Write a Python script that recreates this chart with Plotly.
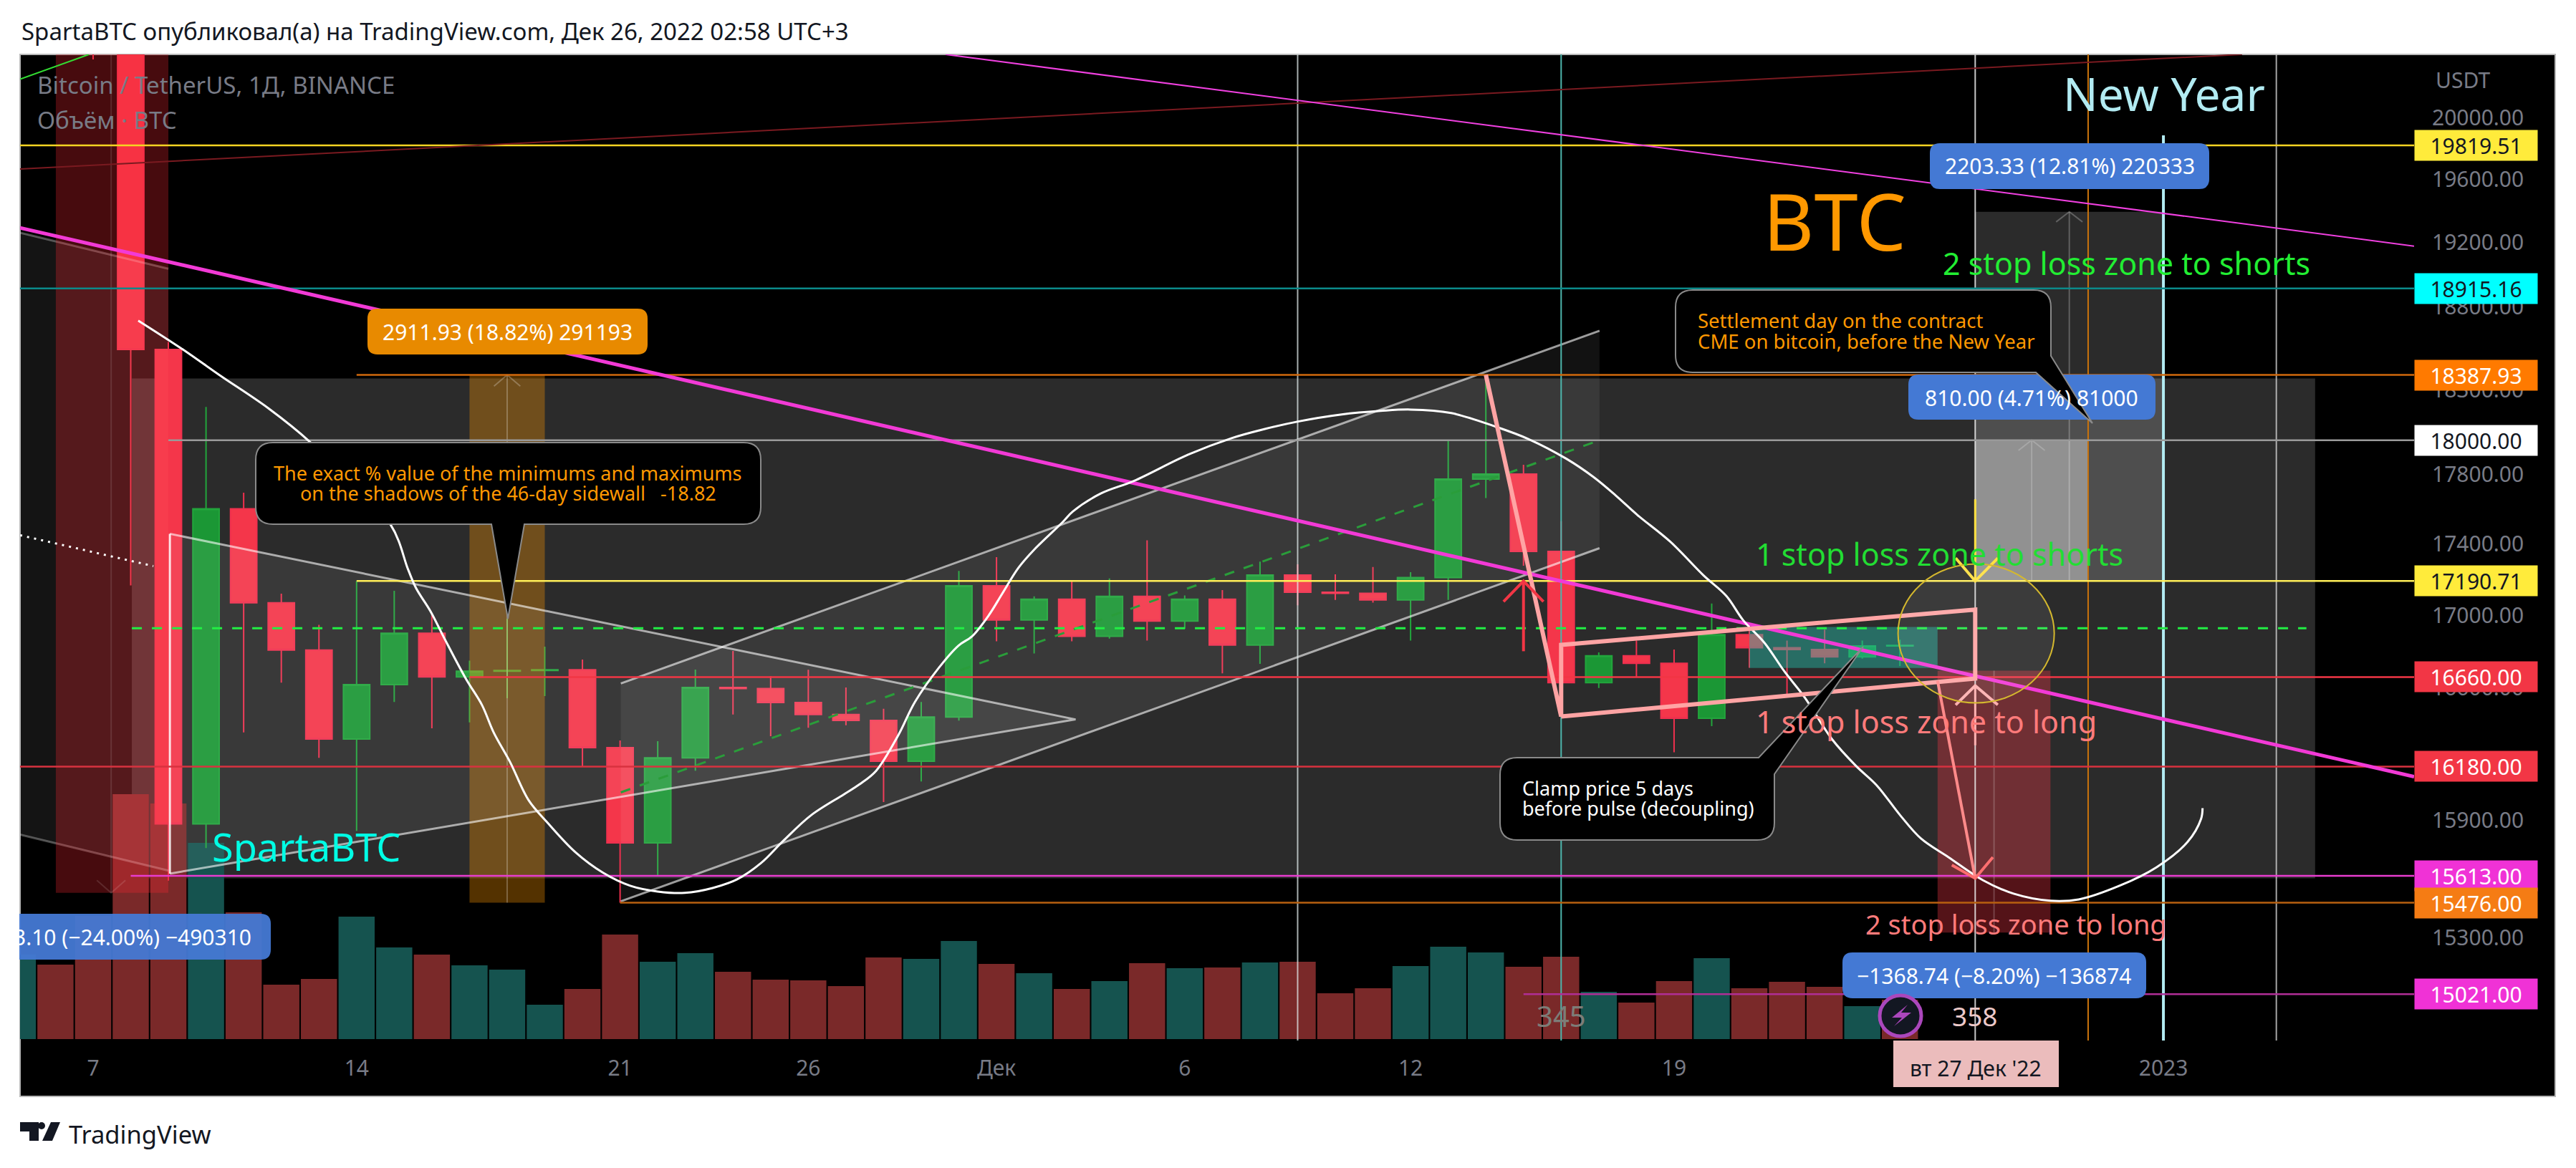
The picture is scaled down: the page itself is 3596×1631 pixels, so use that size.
# BTC/USDT 1D TradingView idea, redrawn with plotly
import math

import pandas as pd
import plotly.graph_objects as go

# daily candles, 7 Nov - 25 Dec 2022
opens = [20905, 20590, 18541, 15880, 17601, 17069, 16807, 16326, 16619, 16900, 16661, 16692, 16696, 16700,
         16280, 15782, 16226, 16603, 16597, 16522, 16457, 16426, 16208, 16444,
         17164, 16973, 17089, 16883, 17105, 16967, 17089, 16835, 17224, 17128, 17122, 17085, 17210, 17773,
         17802, 17358, 16630, 16776, 16735, 16437, 16892, 16820, 16810, 16770, 16830]
highs = [21053, 20700, 18587, 18197, 17694, 17120, 16947, 17190, 17136, 17006, 16750, 16979, 16826, 16755,
         16318, 16315, 16701, 16803, 16665, 16700, 16603, 16488, 16525, 17248,
         17325, 17105, 17190, 17205, 17421, 17110, 17140, 17300, 17285, 17228, 17270, 17240, 17998, 18388,
         17856, 17530, 16795, 16860, 16810, 17065, 16950, 16860, 16920, 16860, 16865]
lows = [20384, 17166, 15588, 15755, 16361, 16630, 16226, 15844, 16525, 16383, 16415, 16545, 16557, 16180,
        15476, 15614, 16158, 16457, 16341, 16386, 16400, 15993, 16101, 16425,
        16856, 16789, 16856, 16870, 16860, 16925, 16680, 16732, 17055, 17085, 17070, 16860, 17085, 17663,
        17277, 16580, 16600, 16660, 16256, 16395, 16710, 16560, 16735, 16760, 16720]
closes = [20590, 18541, 15880, 17601, 17069, 16807, 16326, 16619, 16900, 16661, 16692, 16696, 16700, 16280,
          15782, 16226, 16603, 16597, 16522, 16457, 16426, 16208, 16444, 17164,
          16973, 17089, 16883, 17105, 16967, 17089, 16835, 17224, 17128, 17122, 17085, 17210, 17773, 17802,
          17358, 16630, 16776, 16735, 16437, 16892, 16820, 16810, 16770, 16830, 16833]

# volume bars, 5 Nov - 25 Dec, in thousands of BTC (u = teal, d = red)
volumes = [118, 104, 172, 342, 329, 274, 177, 76, 84, 171, 128, 118, 103, 97, 48, 70, 146, 108, 120, 94, 83, 82, 74,
           114, 112, 137, 105, 92, 70, 81, 106, 99, 100, 107, 108, 64, 71, 102, 129, 121, 101, 115, 66, 51, 81, 113,
           71, 80, 73, 46, 55]
vol_sides = "uddddudddu" + "uduuudduud" + "dddduu" + "dududududdduuudduddudddud"

# axis ticks (the ones hidden behind price tags are left out)
price_ticks = [20000, 19600, 19200, 18800, 18300, 17800, 17400, 17000, 16600, 15900, 15300]
date_ticks = ["2022-11-07", "2022-11-14", "2022-11-21", "2022-11-26", "2022-12-01", "2022-12-06", "2022-12-12",
              "2022-12-19", "2023-01-01"]
date_labels = ["7", "14", "21", "26", "Дек", "6", "12", "19", "2023"]

# horizontal levels: price, first day (days after 7 Nov)
level_prices = [19819.51, 18915.16, 18387.93, 18000.00, 17190.71, 16660.00, 16180.00, 15613.00, 15476.00, 15021.00]
level_starts = [-1.94, -1.94, 7, 2, 7, 10, -1.94, 1, 14, 38]
level_colors = ["#f5d422", "#0b8a8a", "#d0680c", "#9a9a9a", "#ffee58", "#f23645", "#d8323f", "#e83ccf", "#b8600f",
                "#b02e96"]
tag_colors = ["#ffeb3b", "#00ffff", "#ff7a00", "#ffffff", "#ffeb3b", "#f23645", "#f23645", "#f032d6", "#f57c14",
              "#f032d6"]
tag_text_colors = ["#131722", "#131722", "#ffffff", "#131722", "#131722", "#ffffff", "#ffffff", "#ffffff", "#ffffff",
                   "#ffffff"]

# white hand drawn curve
curve_days = [1.20, 2.40, 3.35, 4.66, 5.75, 7.90, 8.37, 8.58, 8.96, 9.32, 9.90, 10.33, 10.64, 11.08, 11.57, 12.08,
              12.81, 13.55, 14.27, 15.0, 15.72, 16.46, 17.11, 17.75, 18.34, 19.07, 19.94, 20.36, 20.80, 21.39, 21.83,
              22.47, 22.99, 23.35, 23.79, 24.15, 24.59, 25.02, 25.75, 26.03, 26.77, 27.65, 29.10, 30.26, 31.0, 32.01,
              33.17, 34.20, 35.0, 36.08, 37.26, 38.12, 39.14, 39.87, 40.46, 41.03, 41.90, 42.78, 43.39, 43.84, 44.40,
              44.93, 45.48, 46.20, 46.83, 47.38, 48.01, 48.56, 49.29, 50.20, 51.02, 52.0, 52.75, 53.83, 54.82, 55.64,
              56.0, 56.04]
curve_prices = [18717, 18539, 18388, 18188, 17992, 17511, 17255, 17151, 17023, 16877, 16652, 16509, 16362, 16203,
                16003, 15884, 15734, 15628, 15562, 15533, 15526, 15551, 15595, 15679, 15793, 15924, 16033, 16086,
                16157, 16346, 16524, 16711, 16832, 16883, 16998, 17119, 17267, 17372, 17523, 17586, 17689, 17762,
                17916, 18013, 18059, 18110, 18152, 18173, 18181, 18160, 18080, 18008, 17891, 17783, 17676, 17565,
                17413, 17223, 17107, 16971, 16848, 16691, 16547, 16324, 16184, 16082, 15924, 15804, 15708, 15591,
                15522, 15486, 15493, 15562, 15657, 15786, 15906, 15962]

# page layout in pixels
PLOT_L, PLOT_R, PLOT_T, PLOT_B = 28, 3370, 76, 1453
FRAME_R, FRAME_B = 3567, 1531
START = pd.Timestamp("2022-11-07")
X_LEFT, X_RIGHT = -1.94, 61.66
Y_LOW, Y_HIGH = 14795, 20417


def dates(days):
    return [(START + pd.Timedelta(days=d)).strftime("%Y-%m-%d %H:%M") for d in days]


def px(x):
    return (x - PLOT_L) / (PLOT_R - PLOT_L)


def py(y):
    return (PLOT_B - y) / (PLOT_B - PLOT_T)


fig = go.Figure()

# volume goes on the lower y axis so the price drawings stay on top of it
fig.add_trace(go.Bar(
    x=dates(range(-2, 49)), y=volumes, yaxis="y", xaxis="x",
    marker=dict(color=["#15534f" if s == "u" else "#7a2929" for s in vol_sides], line_width=0),
    hoverinfo="skip", showlegend=False))

fig.add_trace(go.Candlestick(
    x=dates(range(0, 49)), open=opens, high=highs, low=lows, close=closes, yaxis="y2", xaxis="x",
    increasing=dict(line=dict(color="#22a53c", width=2), fillcolor="#1b9735"),
    decreasing=dict(line=dict(color="#f0304e", width=2), fillcolor="#f4364a"),
    hoverinfo="skip", showlegend=False))


def draw(days, prices, color="rgba(0,0,0,0)", width=2, dash=None, fill=None, shape="linear"):
    fig.add_trace(go.Scatter(
        x=dates(days), y=prices, mode="lines", yaxis="y2", xaxis="x",
        line=dict(color=color, width=width, dash=dash, shape=shape),
        fill="toself" if fill else None, fillcolor=fill,
        hoverinfo="skip", showlegend=False))


def zone(d0, d1, p0, p1, fill):
    draw([d0, d1, d1, d0, d0], [p0, p0, p1, p1, p0], width=0, fill=fill)


GRAY_LINE = "rgba(255,255,255,0.6)"
ZONE = "rgba(255,255,255,0.17)"

# zones (the big gray range is a shape below the candles, further down)
draw([-1.94, 2, 2, -1.94, -1.94], [19262, 19037, 15639, 15824, 19262], width=0, fill="rgba(255,255,255,0.08)")
draw([-1.94, 2], [19262, 19037], "rgba(255,255,255,0.3)", 3)
draw([-1.94, 2], [15824, 15639], "rgba(255,255,255,0.3)", 3)
zone(-0.99, 2, 15526, 21500, "rgba(255,40,50,0.28)")
draw([0.48, 0.48], [15526, 21500], "rgba(255,255,255,0.12)", 2)
draw([0.1, 0.48, 0.86], [15590, 15526, 15590], "rgba(255,255,255,0.12)", 2)
zone(10, 12, 15476, 18387.93, "rgba(255,152,0,0.33)")
draw([11, 11], [15476, 18387.93], "rgba(255,255,255,0.25)", 2)
draw([10.65, 11, 11.35], [18320, 18387.93, 18320], "rgba(255,255,255,0.25)", 2)
zone(50, 55, 17190.71, 19394.04, ZONE)
draw([52.5, 52.5], [17190.71, 19394.04], "rgba(255,255,255,0.25)", 2)
draw([52.15, 52.5, 52.85], [19330, 19394.04, 19330], "rgba(255,255,255,0.25)", 2)
zone(50, 53, 17190.71, 18000.71, "rgba(255,255,255,0.38)")
draw([51.5, 51.5], [17190.71, 18000.71], "rgba(255,255,255,0.2)", 2)
draw([51.15, 51.5, 51.85], [17940, 18000.71, 17940], "rgba(255,255,255,0.2)", 2)
zone(49, 52, 15326, 16695, "rgba(242,54,69,0.35)")
draw([50.5, 50.5], [15326, 16695], "rgba(255,255,255,0.2)", 2)
zone(44, 49, 16709, 16935, "rgba(38,190,170,0.45)")

# triangle and channel
draw([2.04, 26.1, 2.04], [17458, 16431, 15624], GRAY_LINE, 3, fill="rgba(255,255,255,0.07)")
draw([2.04, 2.04], [15624, 17458], "rgba(255,255,255,0.85)", 3)
draw([14.02, 40.02, 40.02, 14.02, 14.02], [16625, 18655, 17376, 15483, 16625], width=0, fill="rgba(255,255,255,0.07)")
draw([14.02, 40.02], [16625, 18655], GRAY_LINE, 3)
draw([14.02, 40.02], [15483, 17376], GRAY_LINE, 3)
draw([14.02, 40.02], [16044, 18000], "#2a9d3a", 3, dash="14px,14px")

# vertical lines
draw([32, 32], [14700, 21000], "rgba(225,235,235,0.75)", 2)
draw([39, 39], [14700, 21000], "#4db6ac", 2)
draw([50, 50], [14700, 21000], "rgba(235,235,235,0.85)", 2)
draw([53, 53], [14700, 21000], "#c9730c", 2)
draw([55, 55], [14700, 19884], "#b2ebf2", 4)
draw([58, 58], [14700, 21000], "rgba(220,220,220,0.75)", 2)

# horizontal levels
for price, first, color in zip(level_prices, level_starts, level_colors):
    draw([first, X_RIGHT], [price, price], color, 2.5)
draw([1.03, 58.8], [16928, 16928], "#22ee44", 3, dash="14px,14px")

# slanted lines
draw([-1.94, 57.09], [19667, 20417], "#7a1a20", 2)
draw([-1.94, -0.11], [20253, 20417], "#33dd33", 2)
draw([-1.94, 1.6], [17450, 17275], "#ffffff", 3, dash="3px,7px")
draw([22.65, 61.66], [20417, 19178], "#f040e0", 2)
draw([-1.94, 61.66], [19293, 16127], "#f23ad6", 5)

# white curve
draw(curve_days, curve_prices, "#ffffff", 3, shape="spline")

# pink drawing and arrows
draw([37, 39, 39, 50, 50, 39], [18388, 16447, 16836, 17031, 16652, 16447], "#ffa4a4", 6)
draw([49, 50], [16640, 15600], "#ff8a8a", 4)
draw([49.38, 50, 50.47], [15668, 15600, 15708], "#ff6f6f", 4)
draw([38, 38], [16801, 17191], "#f23645", 4)
draw([37.47, 38, 38.53], [17075, 17191, 17075], "#f23645", 4)
draw([50, 50], [16293, 16610], "#ffb0b0", 3)
draw([49.48, 50, 50.6], [16509, 16613, 16509], "#ffb0b0", 4)
draw([50, 50], [17656, 17191], "#ffe040", 3)
draw([49.48, 50, 50.6], [17320, 17191, 17320], "#ffe040", 4)

shapes = []
notes = []


def rect_px(x0, y0, x1, y1, fill, layer="below"):
    shapes.append(dict(type="rect", xref="paper", yref="paper", x0=px(x0), x1=px(x1), y0=py(y0), y1=py(y1),
                       fillcolor=fill, line_width=0, layer=layer))


def path_str(points):
    return " ".join(("M" if i == 0 else "L") + f"{px(a):.5f},{py(b):.5f}" for i, (a, b) in enumerate(points)) + " Z"


def callout(x0, y0, x1, y1, r, fill="#000000", line="#8a8a8a", tr=None, br=None, bottom=None):
    # rounded box, tail points replace a corner or sit on the bottom edge
    s = f"M{px(x0 + r):.5f},{py(y0):.5f} "
    if tr:
        s += " ".join(f"L{px(a):.5f},{py(b):.5f}" for a, b in tr) + " "
    else:
        s += f"L{px(x1 - r):.5f},{py(y0):.5f} Q{px(x1):.5f},{py(y0):.5f} {px(x1):.5f},{py(y0 + r):.5f} "
    if br:
        s += " ".join(f"L{px(a):.5f},{py(b):.5f}" for a, b in br) + " "
    else:
        s += f"L{px(x1):.5f},{py(y1 - r):.5f} Q{px(x1):.5f},{py(y1):.5f} {px(x1 - r):.5f},{py(y1):.5f} "
    if bottom:
        s += " ".join(f"L{px(a):.5f},{py(b):.5f}" for a, b in bottom) + " "
    s += (f"L{px(x0 + r):.5f},{py(y1):.5f} Q{px(x0):.5f},{py(y1):.5f} {px(x0):.5f},{py(y1 - r):.5f} "
          f"L{px(x0):.5f},{py(y0 + r):.5f} Q{px(x0):.5f},{py(y0):.5f} {px(x0 + r):.5f},{py(y0):.5f} Z")
    shapes.append(dict(type="path", xref="paper", yref="paper", path=s, fillcolor=fill,
                       line=dict(color=line, width=2 if line != fill else 0), layer="above"))


def label(text, x, y, size, color, anchor="center"):
    notes.append(dict(text=text, xref="paper", yref="paper", x=px(x), y=py(y), xanchor=anchor, yanchor="middle",
                      showarrow=False, font=dict(size=size, color=color), align=anchor))


# black frame around the axes
rect_px(PLOT_R, PLOT_T, FRAME_R, FRAME_B, "#000000")
rect_px(PLOT_L, PLOT_B, FRAME_R, FRAME_B, "#000000")
shapes.append(dict(type="rect", xref="paper", yref="paper", x0=px(PLOT_L), x1=px(FRAME_R), y0=py(PLOT_T), y1=py(FRAME_B),
                   line=dict(color="#b8b8b8", width=2), layer="below"))

# big gray range, under the candles
range_x = dates([1.03, 59.03])
shapes.append(dict(type="rect", xref="x", yref="y2", x0=range_x[0], x1=range_x[1], y0=15600, y1=18367,
                   fillcolor=ZONE, line_width=0, layer="below"))

# yellow circle
circle_x = dates([47.95, 52.1])
shapes.append(dict(type="circle", xref="x", yref="y2", x0=circle_x[0], x1=circle_x[1], y0=16520, y1=17287,
                   fillcolor="rgba(255,255,255,0.08)", line=dict(color="#d4b82e", width=2), layer="above"))

# measure labels
callout(513, 431, 904, 495, 14, fill="#e88a00", line="#e88a00")
callout(2694, 200, 3084, 264, 14, fill="#4479d4", line="#4479d4")
callout(2664, 523, 3009, 586, 14, fill="#4479d4", line="#4479d4")
callout(-10, 1276, 378, 1340, 14, fill="rgba(68,121,212,0.95)", line="rgba(68,121,212,0.95)")
callout(2572, 1330, 2996, 1394, 14, fill="#4479d4", line="#4479d4")
# left label must not run outside the plot frame
rect_px(0, 1270, PLOT_L - 1, 1345, "#ffffff", layer="above")

# callouts
callout(357, 618, 1062, 732, 24, bottom=[(732, 732), (709, 864), (686, 732)])
callout(2339, 405, 2863, 520, 24, br=[(2863, 497), (2921, 591), (2842, 520)])
callout(2094, 1058, 2477, 1173, 24, tr=[(2455, 1058), (2601, 903), (2477, 1081)])

# date tag
rect_px(2643, 1453, 2874, 1518, "#ebbcbc", layer="above")

# bolt icon
shapes.append(dict(type="circle", xref="paper", yref="paper", x0=px(2624), x1=px(2682), y0=py(1390), y1=py(1447),
                   fillcolor="#131722", line=dict(color="#ab47bc", width=5), layer="above"))
shapes.append(dict(type="path", xref="paper", yref="paper", fillcolor="#ab47bc", line_width=0, layer="above",
                   path=path_str([(2663, 1403), (2641, 1421), (2655, 1421), (2644, 1433), (2668, 1414), (2654, 1414)])))

# tradingview logo
logo = "#131722"
shapes.append(dict(type="path", xref="paper", yref="paper", fillcolor=logo, line_width=0, layer="above",
                   path=path_str([(28, 1567), (54, 1567), (54, 1593), (41, 1593), (41, 1580), (28, 1580)])))
shapes.append(dict(type="circle", xref="paper", yref="paper", x0=px(53), x1=px(63), y0=py(1567), y1=py(1577),
                   fillcolor=logo, line_width=0, layer="above"))
shapes.append(dict(type="path", xref="paper", yref="paper", fillcolor=logo, line_width=0, layer="above",
                   path=path_str([(71, 1567), (84, 1567), (73, 1593), (59, 1593)])))

# texts
label("SpartaBTC опубликовал(а) на TradingView.com, Дек 26, 2022 02:58 UTC+3", 28, 43, 33, "#131722", "left")
label("Bitcoin / TetherUS, 1Д, BINANCE", 50, 119, 33, "#787b86", "left")
label("Объём · BTC", 50, 167, 33, "#787b86", "left")
label("USDT", 3398, 111, 30, "#787b86", "left")
label("New Year", 3021, 131, 64, "#b2ebf2")
label("BTC", 2561, 307, 110, "#ff9800")
label("2 stop loss zone to shorts", 2968, 368, 43, "#22ee33")
label("1 stop loss zone to shorts", 2707, 773, 43, "#22dd33")
label("1 stop loss zone to long", 2689, 1007, 43, "#ff7b7b")
label("2 stop loss zone to long", 2814, 1290, 38, "#ff7b7b")
label("SpartaBTC", 427, 1182, 54, "#00ffe5")
label("345", 2179, 1418, 40, "#7d7d78")
label("358", 2757, 1418, 37, "#ecc9c9")
label("2911.93 (18.82%) 291193", 708, 463, 30, "#ffffff")
label("2203.33 (12.81%) 220333", 2889, 232, 30, "#ffffff")
label("810.00 (4.71%) 81000", 2836, 555, 30, "#ffffff")
label("−1368.74 (−8.20%) −136874", 2784, 1362, 30, "#ffffff")
label("3.10 (−24.00%) −490310", 353, 1308, 30, "#ffffff", "right")
label("The exact % value of the minimums and maximums", 709, 660, 27, "#ff9800")
label("on the shadows of the 46-day sidewall   -18.82", 709, 688, 27, "#ff9800")
label("Settlement day on the contract", 2368, 448, 27.5, "#ff9800", "left")
label("CME on bitcoin, before the New Year", 2368, 476, 27.5, "#ff9800", "left")
label("Clamp price 5 days", 2123, 1100, 27, "#ffffff", "left")
label("before pulse (decoupling)", 2123, 1128, 27, "#ffffff", "left")
label("вт 27 Дек '22", 2758, 1491, 30, "#131722")
label("TradingView", 94, 1583, 34.5, "#131722", "left")

# price tags
for price, fill, text_color in zip(level_prices, tag_colors, tag_text_colors):
    notes.append(dict(text=f"{price:.2f}", xref="paper", yref="y2", x=1, y=math.log10(price), xanchor="left",
                      yanchor="middle", showarrow=False, width=169, height=40, bgcolor=fill, borderpad=1,
                      font=dict(size=30, color=text_color)))

fig.update_layout(
    width=3596, height=1631,
    margin=dict(l=PLOT_L, r=3596 - PLOT_R, t=PLOT_T, b=1631 - PLOT_B, pad=0),
    paper_bgcolor="#ffffff", plot_bgcolor="#000000",
    font=dict(family="Noto Sans", size=28, color="#787b86"),
    bargap=0.04, boxgap=0.0, showlegend=False,
    xaxis=dict(type="date", range=dates([X_LEFT, X_RIGHT]), rangeslider_visible=False, showgrid=False, zeroline=False,
               tickmode="array", tickvals=date_ticks, ticktext=date_labels, ticks="", ticklabelstandoff=18,
               tickfont=dict(size=30, color="#787b86")),
    yaxis=dict(range=[-2, 1375], showgrid=False, zeroline=False, showticklabels=False, ticks=""),
    yaxis2=dict(type="log", overlaying="y", side="right", anchor="x", range=[math.log10(Y_LOW), math.log10(Y_HIGH)],
                showgrid=False, zeroline=False, tickmode="array", tickvals=price_ticks,
                ticktext=[f"{p:.2f}" for p in price_ticks], ticks="", ticklabelstandoff=24,
                tickfont=dict(size=30, color="#787b86")),
    shapes=shapes, annotations=notes,
)

fig.write_html("out.html", config=dict(displayModeBar=False), post_script="document.body.style.margin='0';")
